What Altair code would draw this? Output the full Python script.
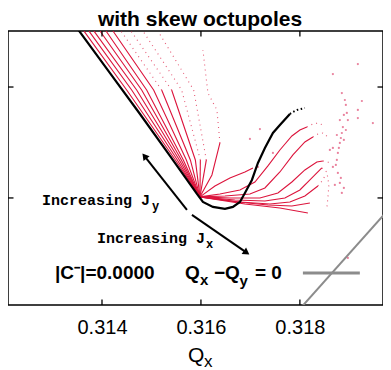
import altair as alt
import pandas as pd

# ---------------- axes ----------------
QX_DOMAIN = [0.31210, 0.31968]
QY_DOMAIN = [0.31807, 0.32301]
QX_TICKS = [0.314, 0.316, 0.318]
QY_TICKS = [0.320, 0.322]

# ---------------- black reference curve ----------------
BLACK_QX = [0.313495, 0.314162, 0.314768, 0.315374, 0.315919, 0.316040, 0.316242,
            0.316485, 0.316646, 0.316788, 0.316889, 0.317030, 0.317152, 0.317293,
            0.317455, 0.317596, 0.317798]
BLACK_QY = [0.323063, 0.322252, 0.321514, 0.320757, 0.320072, 0.319928, 0.319838,
            0.319802, 0.319838, 0.319928, 0.320090, 0.320324, 0.320631, 0.320901,
            0.321171, 0.321315, 0.321514]
BLACK_TAIL_QX = [0.317798, 0.317859, 0.317939, 0.318020, 0.318101]
BLACK_TAIL_QY = [0.321514, 0.321550, 0.321586, 0.321604, 0.321622]

# ---------------- red footprint: J_y fan ----------------
ORIGIN_QX = 0.31598
ORIGIN_QY = 0.32002
FAN_QY = [0.320685, 0.321946, 0.323009]
FAN_QX_LOW = [0.315483, 0.315523, 0.315564, 0.315604, 0.315644, 0.315705, 0.315786,
              0.315887, 0.315988, 0.316109]
FAN_QX_MID = [0.314499, 0.314600, 0.314701, 0.314802, 0.314903, 0.315044, 0.315206,
              0.315408, 0.315610, 0.315853]
FAN_QX_TOP = [0.313636, 0.313737, 0.313838, 0.313960, 0.314081, 0.314222, 0.314384,
              0.314586, 0.314828, 0.315131]
FAN_SOLID_UPTO = [3, 3, 3, 3, 3, 3, 2, 2, 1, 1]

STEEP_QX = [0.31598, 0.316222, 0.316384]
STEEP_QY = [0.32002, 0.320414, 0.320991]
STEEP_DOT_QX = [0.316384, 0.316323, 0.316141, 0.316040]
STEEP_DOT_QY = [0.320991, 0.321586, 0.321892, 0.322667]

# ---------------- red footprint: J_x branch ----------------
R1_QX = [0.31598, 0.316283, 0.316586, 0.316889, 0.317051]
R1_QY = [0.32002, 0.320216, 0.320360, 0.320468, 0.320541]
R2_QX = [0.31598, 0.316384, 0.316788, 0.317091, 0.317354, 0.317596, 0.317838, 0.318000, 0.318141]
R2_QY = [0.32002, 0.320072, 0.320144, 0.320288, 0.320577, 0.320865, 0.321117, 0.321225, 0.321279]
R2_DOT_QX = [0.318141, 0.318263, 0.318364, 0.318465]
R2_DOT_QY = [0.321279, 0.321333, 0.321351, 0.321315]
R3_QX = [0.31598, 0.316485, 0.316990, 0.317293, 0.317596, 0.317859, 0.318101, 0.318263]
R3_QY = [0.32002, 0.320036, 0.320072, 0.320180, 0.320468, 0.320775, 0.321009, 0.321099]
R3_DOT_QX = [0.318263, 0.318364, 0.318465, 0.318566]
R3_DOT_QY = [0.321099, 0.321153, 0.321171, 0.321099]
R4_QX = [0.31598, 0.316586, 0.317192, 0.317556, 0.317838, 0.318101, 0.318343, 0.318465]
R4_QY = [0.32002, 0.320000, 0.320000, 0.320090, 0.320288, 0.320505, 0.320649, 0.320667]
R4_DOT_QX = [0.318465, 0.318566, 0.318626]
R4_DOT_QY = [0.320667, 0.320649, 0.320595]
R5_QX = [0.31598, 0.316687, 0.317293, 0.317697, 0.318000, 0.318263, 0.318444]
R5_QY = [0.32002, 0.319964, 0.319946, 0.320000, 0.320144, 0.320378, 0.320541]
R5_DOT_QX = [0.318444, 0.318545, 0.318586, 0.318566, 0.318545]
R5_DOT_QY = [0.320541, 0.320468, 0.320234, 0.320000, 0.319820]
R6_QX = [0.31598, 0.316788, 0.317394, 0.317798, 0.318101, 0.318364]
R6_QY = [0.32002, 0.319928, 0.319892, 0.319928, 0.320036, 0.320216]
R6_DOT_QX = [0.318364, 0.318465, 0.318525]
R6_DOT_QY = [0.320216, 0.320324, 0.320432]
R7_QX = [0.31598, 0.316747, 0.317354, 0.317838, 0.318202]
R7_QY = [0.32002, 0.319928, 0.319874, 0.319856, 0.319910]
R8_QX = [0.31598, 0.316889, 0.317596, 0.318162]
R8_QY = [0.32002, 0.319892, 0.319820, 0.319730]

# scattered (chaotic) tune points
SCAT_QX = [0.317192, 0.316990, 0.317455, 0.317152, 0.318667, 0.319172, 0.318848, 0.319253,
           0.318929, 0.318949, 0.319172, 0.319172, 0.319475, 0.318970, 0.318889, 0.318869,
           0.318848, 0.318929, 0.318828, 0.318808, 0.318889, 0.318768, 0.318788, 0.318667,
           0.318606, 0.318747, 0.318727, 0.318667, 0.318768, 0.318828, 0.318808, 0.318889,
           0.318848, 0.318707, 0.318970, 0.318909, 0.318808, 0.318747]
SCAT_QY = [0.321243, 0.321063, 0.320811, 0.320559, 0.322234, 0.322414, 0.321892, 0.321748,
           0.321676, 0.321532, 0.321586, 0.321441, 0.321351, 0.321405, 0.321496, 0.321279,
           0.321171, 0.321225, 0.321081, 0.320991, 0.321045, 0.320811, 0.320901, 0.320901,
           0.320865, 0.320685, 0.320595, 0.320559, 0.320450, 0.320360, 0.320270, 0.320180,
           0.320090, 0.320234, 0.318919, 0.321766, 0.321405, 0.321135]

# coupling resonance line Qx - Qy = 0
DIAG_Q = [0.3178, 0.3205]
LEGEND_LINE_QX = [0.318061, 0.319212]
LEGEND_LINE_QY = [0.318649, 0.318649]

# arrows
ARROW_TAIL_QX = [0.315717, 0.315818]
ARROW_TAIL_QY = [0.319784, 0.319694]
ARROW_HEAD_QX = [0.314859, 0.316923]
ARROW_HEAD_QY = [0.320755, 0.319014]
ARROW_ANGLE = [322, 125]

# texts
TITLE = "with skew octupoles"
ANNOT_TXT = ["Increasing J", "Increasing J"]
ANNOT_QX = [0.312788, 0.313899]
ANNOT_QY = [0.319964, 0.319279]
ANNOT_SUB = ["y", "x"]
ANNOT_SUB_QX = [0.315010, 0.316101]
ANNOT_SUB_QY = [0.319856, 0.319171]
LEG_TXT = ["|C\u207b|=0.0000", "Q", "\u2212", "Q", "= 0"]
LEG_QX = [0.313051, 0.315677, 0.316262, 0.316485, 0.317091]
LEG_QY = [0.318649] * 5
LEG_SUB = ["x", "y"]
LEG_SUB_QX = [0.315980, 0.316778]
LEG_SUB_QY = [0.318523, 0.318505]

RED = "#dc143c"
GRAY = "#8c8c8c"
W, H = 375, 274

# ---------------- build tables ----------------
def seg_rows(sid, qx, qy):
    return [{"sid": sid, "ord": i, "qx": x, "qy": y} for i, (x, y) in enumerate(zip(qx, qy))]

solid_rows, dotted_rows = [], []
for k in range(len(FAN_QX_TOP)):
    px = [ORIGIN_QX, FAN_QX_LOW[k], FAN_QX_MID[k], FAN_QX_TOP[k]]
    py = [ORIGIN_QY] + FAN_QY
    s = FAN_SOLID_UPTO[k]
    solid_rows += seg_rows(f"f{k}", px[:s + 1], py[:s + 1])
    if s < 3:
        dotted_rows += seg_rows(f"f{k}", px[s:], py[s:])
solid_rows += seg_rows("steep", STEEP_QX, STEEP_QY)
dotted_rows += seg_rows("steep", STEEP_DOT_QX, STEEP_DOT_QY)
for name, qx, qy in [("r1", R1_QX, R1_QY), ("r2", R2_QX, R2_QY), ("r3", R3_QX, R3_QY),
                     ("r4", R4_QX, R4_QY), ("r5", R5_QX, R5_QY), ("r6", R6_QX, R6_QY),
                     ("r7", R7_QX, R7_QY), ("r8", R8_QX, R8_QY)]:
    solid_rows += seg_rows(name, qx, qy)
for name, qx, qy in [("r2", R2_DOT_QX, R2_DOT_QY), ("r3", R3_DOT_QX, R3_DOT_QY),
                     ("r4", R4_DOT_QX, R4_DOT_QY), ("r5", R5_DOT_QX, R5_DOT_QY),
                     ("r6", R6_DOT_QX, R6_DOT_QY)]:
    dotted_rows += seg_rows(name, qx, qy)

red_solid = pd.DataFrame(solid_rows)
red_dotted = pd.DataFrame(dotted_rows)
black_df = pd.DataFrame({"qx": BLACK_QX, "qy": BLACK_QY, "ord": range(len(BLACK_QX))})
black_tail = pd.DataFrame({"qx": BLACK_TAIL_QX, "qy": BLACK_TAIL_QY, "ord": range(len(BLACK_TAIL_QX))})
scat_df = pd.DataFrame({"qx": SCAT_QX, "qy": SCAT_QY})
diag_df = pd.DataFrame({"qx": DIAG_Q, "qy": DIAG_Q})
legline_df = pd.DataFrame({"qx": LEGEND_LINE_QX, "qy": LEGEND_LINE_QY})
arrow_df = pd.DataFrame({"qx": ARROW_TAIL_QX, "qy": ARROW_TAIL_QY,
                         "qx2": ARROW_HEAD_QX, "qy2": ARROW_HEAD_QY, "ang": ARROW_ANGLE})

xs = alt.Scale(domain=QX_DOMAIN, nice=False, zero=False)
ys = alt.Scale(domain=QY_DOMAIN, nice=False, zero=False)
xaxis = alt.Axis(values=QX_TICKS, format=".3f", ticks=False, domain=False, grid=False,
                 labelFont="Liberation Sans", labelFontSize=20, labelColor="black",
                 labelPadding=12, title=None)
yaxis = alt.Axis(values=QY_TICKS, labels=False, ticks=False, domain=False, grid=False, title=None)
X = alt.X("qx:Q", scale=xs, axis=xaxis)
Y = alt.Y("qy:Q", scale=ys, axis=yaxis)

layers = []
layers.append(alt.Chart(diag_df).mark_line(color=GRAY, strokeWidth=2, clip=True).encode(x=X, y=Y))
layers.append(alt.Chart(red_solid).mark_line(color=RED, strokeWidth=1.1, clip=True)
              .encode(x=X, y=Y, detail="sid:N", order="ord:Q"))
layers.append(alt.Chart(red_dotted).mark_line(color=RED, strokeWidth=1.1, strokeDash=[1, 4],
                                              opacity=0.7, clip=True)
              .encode(x=X, y=Y, detail="sid:N", order="ord:Q"))
layers.append(alt.Chart(scat_df).mark_circle(color="#e2577c", size=5, opacity=0.75, clip=True)
              .encode(x=X, y=Y))
layers.append(alt.Chart(black_df).mark_line(color="black", strokeWidth=2.2, clip=True)
              .encode(x=X, y=Y, order="ord:Q"))
layers.append(alt.Chart(black_tail).mark_line(color="black", strokeWidth=2, strokeDash=[1.5, 2.5], clip=True)
              .encode(x=X, y=Y, order="ord:Q"))
layers.append(alt.Chart(legline_df).mark_line(color=GRAY, strokeWidth=3).encode(x=X, y=Y))
layers.append(alt.Chart(arrow_df).mark_rule(color="black", strokeWidth=2)
              .encode(x=X, y=Y, x2="qx2:Q", y2="qy2:Q"))
layers.append(alt.Chart(arrow_df).mark_point(shape="triangle-up", filled=True, color="black",
                                             size=60, opacity=1)
              .encode(x=alt.X("qx2:Q", scale=xs, axis=xaxis), y=alt.Y("qy2:Q", scale=ys, axis=yaxis),
                      angle=alt.Angle("ang:Q", scale=None)))

# texts
annot_df = pd.DataFrame({"qx": ANNOT_QX, "qy": ANNOT_QY, "t": ANNOT_TXT})
annot_sub_df = pd.DataFrame({"qx": ANNOT_SUB_QX, "qy": ANNOT_SUB_QY, "t": ANNOT_SUB})
leg_df = pd.DataFrame({"qx": LEG_QX, "qy": LEG_QY, "t": LEG_TXT})
leg_sub_df = pd.DataFrame({"qx": LEG_SUB_QX, "qy": LEG_SUB_QY, "t": LEG_SUB})
layers.append(alt.Chart(annot_df).mark_text(align="left", baseline="middle", font="Liberation Mono",
                                            fontWeight="bold", fontSize=15, color="black")
              .encode(x=X, y=Y, text="t:N"))
layers.append(alt.Chart(annot_sub_df).mark_text(align="left", baseline="middle", font="Liberation Mono",
                                                fontWeight="bold", fontSize=12, color="black")
              .encode(x=X, y=Y, text="t:N"))
layers.append(alt.Chart(leg_df).mark_text(align="left", baseline="middle", font="Liberation Sans",
                                          fontWeight="bold", fontSize=19, color="black")
              .encode(x=X, y=Y, text="t:N"))
layers.append(alt.Chart(leg_sub_df).mark_text(align="left", baseline="middle", font="Liberation Sans",
                                              fontWeight="bold", fontSize=15, color="black")
              .encode(x=X, y=Y, text="t:N"))

# inward ticks on all four sides
xt = pd.DataFrame({"qx": QX_TICKS})
yt = pd.DataFrame({"qy": QY_TICKS})
TL = 5.5
layers.append(alt.Chart(xt).mark_rule(color="black", strokeWidth=1.3)
              .encode(x=X, y=alt.value(H), y2=alt.value(H - TL)))
layers.append(alt.Chart(xt).mark_rule(color="black", strokeWidth=1.3)
              .encode(x=X, y=alt.value(0), y2=alt.value(TL)))
layers.append(alt.Chart(yt).mark_rule(color="black", strokeWidth=1.3)
              .encode(y=Y, x=alt.value(0), x2=alt.value(TL)))
layers.append(alt.Chart(yt).mark_rule(color="black", strokeWidth=1.3)
              .encode(y=Y, x=alt.value(W), x2=alt.value(W - TL)))

# title and axis title Q_x
layers.append(alt.Chart(pd.DataFrame({"t": [TITLE]})).mark_text(
    align="center", baseline="alphabetic", font="Liberation Sans", fontSize=21,
    fontWeight="bold", color="black")
    .encode(text="t:N", x=alt.value(192), y=alt.value(-5)))
layers.append(alt.Chart(pd.DataFrame({"t": ["Q"]})).mark_text(
    align="left", baseline="middle", font="Liberation Sans", fontSize=21, color="black")
    .encode(text="t:N", x=alt.value(180), y=alt.value(325)))
layers.append(alt.Chart(pd.DataFrame({"t": ["x"]})).mark_text(
    align="left", baseline="middle", font="Liberation Sans", fontSize=17, color="black")
    .encode(text="t:N", x=alt.value(196), y=alt.value(331)))

chart = alt.layer(*layers).properties(
    width=W, height=H,
    autosize=alt.AutoSizeParams(type="none"),
    padding={"left": 0, "top": 23, "right": 0, "bottom": 65},
).configure_view(stroke="black", strokeWidth=1.5)

chart.save("out.html", embed_options={"renderer": "svg", "actions": False})
